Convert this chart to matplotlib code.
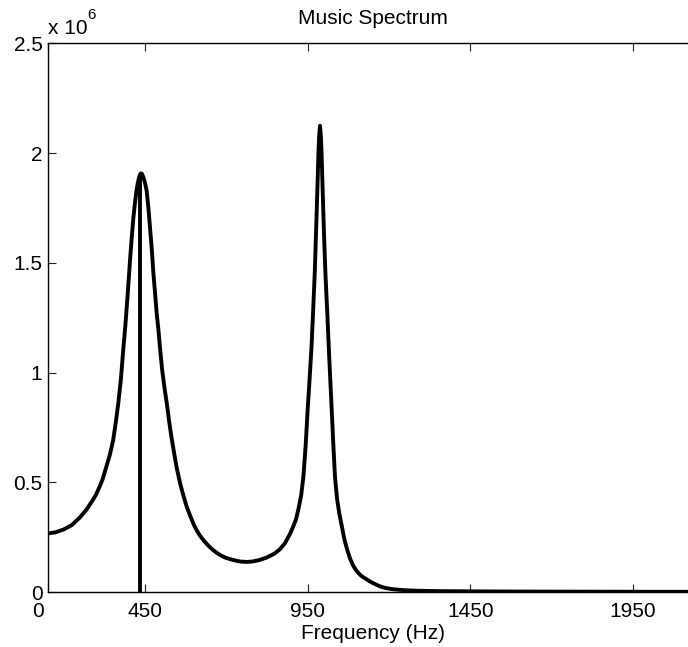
import matplotlib
matplotlib.use("Agg")
import matplotlib.pyplot as plt
from matplotlib.transforms import ScaledTranslation

plt.rcParams.update({
    'font.family': ['Liberation Sans', 'DejaVu Sans'],
    'font.size': 15,
    'axes.linewidth': 1.0,
    'xtick.direction': 'in',
    'ytick.direction': 'in',
})

# music pseudospectrum (values in units of 1e6)
freq = [152, 175, 200, 225, 250, 270, 290, 300, 312, 320, 327, 342, 352, 360,
        368, 376, 383, 390, 397, 404, 409, 414, 419, 424, 428, 432, 435, 438,
        441, 445, 450, 455, 460, 465, 471, 476, 480, 486, 491, 497, 503, 510,
        517, 525, 532, 540, 547, 558, 568, 578, 590, 600, 609, 619, 632, 645,
        658, 670, 685, 700, 721, 742, 763, 780, 800, 824, 848, 865, 880, 896,
        906, 914, 922, 930, 937, 944, 950, 956, 962, 967, 972, 975, 978, 980,
        983, 985, 988, 991, 993, 996, 998, 1001, 1005, 1010, 1016, 1024, 1029,
        1034, 1040, 1047, 1055, 1063, 1072, 1081, 1090, 1100, 1110, 1120, 1131,
        1145, 1160, 1172, 1190, 1210, 1240, 1280, 1350, 1450, 1600, 1800, 2000,
        2150]
power = [0.267, 0.272, 0.285, 0.305, 0.34, 0.375, 0.42, 0.445, 0.485, 0.515,
         0.55, 0.625, 0.69, 0.77, 0.86, 0.97, 1.10, 1.22, 1.36, 1.51, 1.61, 1.70,
         1.77, 1.83, 1.865, 1.89, 1.903, 1.908, 1.905, 1.89, 1.865, 1.83, 1.76,
         1.67, 1.56, 1.45, 1.38, 1.27, 1.20, 1.10, 1.01, 0.93, 0.86, 0.77, 0.70,
         0.63, 0.57, 0.495, 0.44, 0.39, 0.343, 0.307, 0.281, 0.257, 0.232, 0.211,
         0.193, 0.179, 0.165, 0.155, 0.146, 0.139, 0.137, 0.139, 0.145, 0.157,
         0.175, 0.195, 0.222, 0.265, 0.30, 0.33, 0.38, 0.44, 0.526, 0.67, 0.83,
         0.97, 1.12, 1.285, 1.46, 1.60, 1.74, 1.84, 1.99, 2.07, 2.125, 2.07, 1.99,
         1.84, 1.74, 1.60, 1.44, 1.285, 1.08, 0.83, 0.67, 0.526, 0.43, 0.36,
         0.30, 0.24, 0.19, 0.15, 0.12, 0.097, 0.08, 0.068, 0.058, 0.045, 0.034,
         0.026, 0.018, 0.013, 0.009, 0.006, 0.004, 0.003, 0.002, 0.0015, 0.001,
         0.001]

# marker line at the first tone
stem_freq = [436]
stem_height = [1.90]

xtick_pos = [152, 450, 950, 1450, 1950]
xtick_labels = ['0', '450', '950', '1450', '1950']
ytick_pos = [0, 0.5, 1, 1.5, 2, 2.5]
ytick_labels = ['0', '0.5', '1', '1.5', '2', '2.5']

fig = plt.figure(figsize=(6.88, 6.47), dpi=100)
ax = fig.add_axes([0.0698, 0.0850, 0.9448, 0.8478])

ax.plot(freq, power, color='black', linewidth=2.8,
        solid_joinstyle='round', solid_capstyle='round')
ax.vlines(stem_freq, 0, stem_height, color='black', linewidth=2.8, clip_on=False)

ax.set_xlim(152, 2150)
ax.set_ylim(0, 2.5)
ax.set_xticks(xtick_pos)
ax.set_xticklabels(xtick_labels)
ax.set_yticks(ytick_pos)
ax.set_yticklabels(ytick_labels)
ax.tick_params(top=True, right=True, length=6, width=0.8, color='#222222')
ax.tick_params(axis='x', pad=7)
ax.tick_params(axis='y', pad=4)

# matlab puts the first x label a bit left of the axis
lbl = ax.xaxis.get_major_ticks()[0].label1
lbl.set_transform(lbl.get_transform() + ScaledTranslation(-10 / 100, 0, fig.dpi_scale_trans))

ax.set_xlabel('Frequency (Hz)', labelpad=2)
fig.text(0.542, 1 - 18 / 647, 'Music Spectrum', ha='center', va='center', fontsize=15)
fig.text(48 / 688, 1 - 34 / 647, 'x 10', ha='left', va='baseline', fontsize=15)
fig.text(87 / 688, 1 - 19 / 647, '6', ha='left', va='baseline', fontsize=11)

plt.savefig('out.png', dpi=100, facecolor='white')
plt.close()
